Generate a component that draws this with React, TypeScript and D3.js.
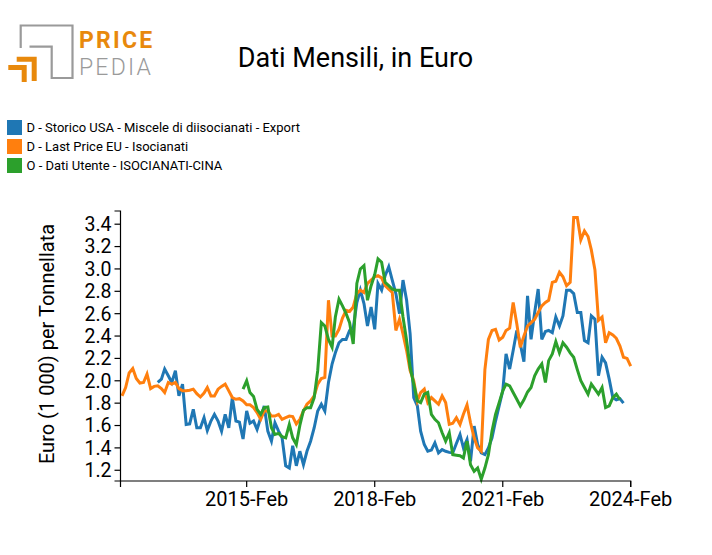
import React from "react";
import * as d3 from "d3";

const W = 712;
const H = 555;

const title = "Dati Mensili, in Euro";
const yAxisTitle = "Euro (1 000) per Tonnellata";

const seriesLabels = [
  "D - Storico USA - Miscele di diisocianati - Export",
  "D - Last Price EU - Isocianati",
  "O - Dati Utente - ISOCIANATI-CINA",
];
const seriesColors = ["#1f77b4", "#ff7f0e", "#2ca02c"];

// D - Storico USA (monthly, from 2013-Jan)
const usaStart = "2013-01";
const usaValues = [
  1.985, 2.015, 2.105, 2.045, 1.985, 2.09, 1.865, 1.97, 1.61, 1.615,
  1.745, 1.58, 1.58, 1.67, 1.555, 1.64, 1.7, 1.64, 1.55, 1.7,
  1.58, 1.85, 1.64, 1.63, 1.48, 1.73, 1.62, 1.64, 1.565, 1.67,
  1.775, 1.55, 1.46, 1.625, 1.55, 1.49, 1.24, 1.22, 1.42, 1.24,
  1.37, 1.25, 1.37, 1.46, 1.58, 1.73, 1.79, 1.73, 1.985, 2.15,
  2.25, 2.34, 2.37, 2.37, 2.45, 2.47, 2.7, 2.81, 2.69, 2.49,
  2.66, 2.46, 2.87, 2.81, 2.94, 3.02, 2.9, 2.78, 2.6, 2.9,
  2.72, 2.42, 1.85, 1.775, 1.55, 1.43, 1.37, 1.38, 1.445, 1.355,
  1.385, 1.37, 1.36, 1.355, 1.44, 1.52, 1.4, 1.475, 1.28, 1.595,
  1.43, 1.355, 1.34, 1.4, 1.49, 1.64, 1.775, 1.91, 2.24, 2.105,
  2.27, 2.45, 2.33, 2.17, 2.76, 2.37, 2.61, 2.82, 2.37, 2.44,
  2.45, 2.43, 2.57, 2.49, 2.58, 2.81, 2.81, 2.78, 2.61, 2.61,
  2.36, 2.34, 2.58, 2.55, 2.045, 2.21, 2.16, 2.015, 1.85, 1.83,
  1.84, 1.8,
];

// D - Last Price EU (monthly, from 2012-Mar)
const euStart = "2012-03";
const euValues = [
  1.865, 1.94, 2.07, 2.11, 2.02, 1.98, 1.985, 2.06, 1.93, 1.95,
  1.955, 1.93, 1.895, 1.985, 1.97, 1.985, 1.93, 1.91, 1.91, 1.915,
  1.925, 1.885, 1.855, 1.89, 1.94, 1.865, 1.865, 1.925, 1.95, 1.97,
  1.91, 1.85, 1.835, 1.84, 1.82, 1.785, 1.785, 1.76, 1.715, 1.655,
  1.73, 1.73, 1.685, 1.685, 1.7, 1.655, 1.67, 1.685, 1.68, 1.615,
  1.655, 1.73, 1.79, 1.82, 1.865, 1.97, 2.02, 2.03, 2.72, 2.4,
  2.4, 2.46, 2.56, 2.63, 2.62, 2.66, 2.78, 2.81, 2.79, 2.87,
  2.9, 2.93, 2.94, 2.92, 2.85, 2.82, 2.79, 2.45, 2.55, 2.42,
  2.27, 2.09, 2.0, 1.82, 1.895, 1.925, 1.805, 1.85, 1.82, 1.79,
  1.865, 1.805, 1.61, 1.62, 1.67, 1.61, 1.7, 1.785, 1.625, 1.49,
  1.4, 1.37, 2.1, 2.37, 2.45, 2.46, 2.365, 2.39, 2.45, 2.47,
  2.7, 2.51, 2.3, 2.4, 2.49, 2.52, 2.55, 2.61, 2.67, 2.7,
  2.72, 2.88, 2.89, 2.97, 2.93, 2.85, 2.88, 3.46, 3.46, 3.26,
  3.34, 3.29, 3.17, 2.99, 2.54, 2.57, 2.34, 2.43, 2.41, 2.38,
  2.31, 2.21, 2.2, 2.13,
];

// O - Dati Utente CINA (monthly, from 2015-Jan)
const cinaStart = "2015-01";
const cinaValues = [
  1.925, 2.0, 1.895, 1.86, 1.745, 1.7, 1.76, 1.765, 1.58, 1.52,
  1.53, 1.5, 1.49, 1.61, 1.49, 1.43, 1.6, 1.735, 1.76, 1.76,
  1.85, 2.09, 2.52, 2.49, 2.37, 2.3, 2.57, 2.73, 2.67, 2.6,
  2.52, 2.33, 2.87, 3.0, 3.03, 2.72, 2.85, 2.95, 3.09, 3.06,
  2.88, 2.85, 2.82, 2.81, 2.81, 2.57, 2.36, 2.12, 1.97, 1.82,
  1.805, 1.88, 1.895, 1.7, 1.655, 1.625, 1.535, 1.46, 1.535, 1.34,
  1.335, 1.33, 1.31, 1.46, 1.25, 1.19, 1.22, 1.12, 1.22, 1.34,
  1.55, 1.7, 1.805, 1.91, 1.97, 1.955, 1.895, 1.835, 1.775, 1.83,
  1.9, 1.94, 2.045, 2.105, 2.15, 1.985, 2.18, 2.24, 2.35, 2.25,
  2.34, 2.3, 2.25, 2.21, 2.1, 2.0, 1.94, 1.88, 1.97, 1.925,
  1.88, 1.94, 1.76, 1.775, 1.85, 1.88, 1.83,
];

const yTickValues = [1.2, 1.4, 1.6, 1.8, 2.0, 2.2, 2.4, 2.6, 2.8, 3.0, 3.2, 3.4];
const xTickLabels = ["2015-Feb", "2018-Feb", "2021-Feb", "2024-Feb"];

const parseMonth = d3.timeParse("%Y-%m");
const parseTick = d3.timeParse("%Y-%b");

type Pt = [Date, number];

function toPoints(start: string, values: number[]): Pt[] {
  const s = parseMonth(start) as Date;
  return values.map((v, i) => [d3.timeMonth.offset(s, i), v] as Pt);
}

export default function App() {
  const left = 120.5;
  const right = 630.7;
  const top = 211;
  const bottom = 481;

  const x = d3
    .scaleTime()
    .domain([new Date(2012, 1, 17), new Date(2024, 1, 1)])
    .range([left, right]);
  const y = d3.scaleLinear().domain([1.104, 3.518]).range([bottom, top]);

  const series = [
    toPoints(usaStart, usaValues),
    toPoints(euStart, euValues),
    toPoints(cinaStart, cinaValues),
  ];

  const line = d3
    .line<Pt>()
    .x((d) => x(d[0]))
    .y((d) => y(d[1]));

  const xTicks = xTickLabels.map((l) => ({ label: l, date: parseTick(l) as Date }));
  const tick = 6;
  const font = "Roboto, 'DejaVu Sans', sans-serif";
  const orange = "#e8890c";
  const grey = "#9a9a9a";

  return (
    <svg
      width={W}
      height={H}
      viewBox={`0 0 ${W} ${H}`}
      style={{ position: "absolute", left: 0, top: 0, background: "#fff" }}
      fontFamily={font}
    >
      <rect x={0} y={0} width={W} height={H} fill="#fff" />

      {/* logo */}
      <g>
        <path
          d="M20.7,48 V25.5 H72.5 V78 H51.7 V46.7 H29.5"
          fill="none"
          stroke={grey}
          strokeWidth={2.2}
        />
        <path d="M16.7,59.2 H34.2 V81" fill="none" stroke={orange} strokeWidth={5} />
        <path d="M8.3,67.5 H24.2 V82" fill="none" stroke={orange} strokeWidth={5} />
        <text x={79} y={48} fontSize={23} fontWeight={700} fill={orange} letterSpacing={2.2}>
          PRICE
        </text>
        <text x={79} y={75} fontSize={23} fontWeight={300} fill={grey} letterSpacing={2.2}>
          PEDIA
        </text>
      </g>

      {/* title */}
      <text x={355.5} y={67} fontSize={27} textAnchor="middle" fill="#000">
        {title}
      </text>

      {/* legend */}
      {seriesLabels.map((lab, i) => {
        const cy = 127.5 + i * 19;
        return (
          <g key={lab}>
            <rect x={7} y={cy - 7.5} width={15} height={15} fill={seriesColors[i]} />
            <text x={26.5} y={cy + 4.6} fontSize={13} fill="#000">
              {lab}
            </text>
          </g>
        );
      })}

      {/* lines */}
      {series.map((pts, i) => (
        <path
          key={i}
          d={line(pts) || ""}
          fill="none"
          stroke={seriesColors[i]}
          strokeWidth={3}
        />
      ))}

      {/* y axis */}
      <g>
        <path
          d={`M${left - tick},${top}H${left}V${bottom}H${left - tick}`}
          fill="none"
          stroke="#000"
          strokeWidth={1.2}
        />
        {yTickValues.map((v) => (
          <g key={v} transform={`translate(0,${y(v)})`}>
            <line x1={left - tick} x2={left} stroke="#000" strokeWidth={1.2} />
            <text x={left - tick - 3} dy="0.35em" fontSize={19.5} textAnchor="end" fill="#000">
              {v.toFixed(1)}
            </text>
          </g>
        ))}
        <text
          transform={`translate(53.5,344) rotate(-90)`}
          fontSize={20}
          textAnchor="middle"
          fill="#000"
        >
          {yAxisTitle}
        </text>
      </g>

      {/* x axis */}
      <g>
        <path
          d={`M${left},${bottom + tick}V${bottom}H${right}V${bottom + tick}`}
          fill="none"
          stroke="#000"
          strokeWidth={1.2}
        />
        {xTicks.map((t) => (
          <g key={t.label} transform={`translate(${x(t.date)},0)`}>
            <line y1={bottom} y2={bottom + tick} stroke="#000" strokeWidth={1.2} />
            <text y={506} fontSize={20} textAnchor="middle" fill="#000">
              {t.label}
            </text>
          </g>
        ))}
      </g>
    </svg>
  );
}
